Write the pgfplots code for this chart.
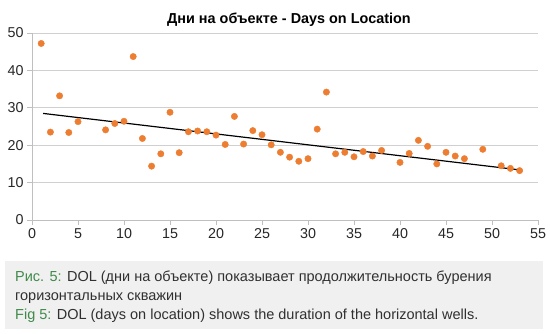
\documentclass[border=0pt]{standalone}
\usepackage{pgfplots}
\pgfplotsset{compat=1.18}
\usepackage{fontspec}
\setmainfont{Liberation Sans}
\definecolor{dorange}{HTML}{ED7D31}
\definecolor{gridgray}{HTML}{D0D0D0}
\definecolor{axgray}{HTML}{BFBFBF}
\definecolor{capgreen}{HTML}{3F8A4A}
\definecolor{capbg}{HTML}{F0F0F0}
\definecolor{captext}{HTML}{303030}
\begin{document}
\begin{tikzpicture}[x=1bp,y=1bp]
\useasboundingbox (0,0) rectangle (550,333);
\fill[capbg] (5,4) rectangle (543,72);
\node[anchor=base west, inner sep=0pt, font=\fontsize{14.5bp}{16bp}\selectfont, text=captext] at (15,52) {\textcolor{capgreen}{Рис. 5:} DOL (дни на объекте) показывает продолжительность бурения};
\node[anchor=base west, inner sep=0pt, font=\fontsize{14.5bp}{16bp}\selectfont, text=captext] at (15,33) {горизонтальных скважин};
\node[anchor=base west, inner sep=0pt, font=\fontsize{14.5bp}{16bp}\selectfont, text=captext] at (15,14) {\textcolor{capgreen}{Fig 5:} DOL (days on location) shows the duration of the horizontal wells.};
\node[anchor=base, inner sep=0pt, font=\fontsize{14.4bp}{16bp}\selectfont\bfseries, text=black] at (289,310) {Дни на объекте - Days on Location};
\begin{axis}[
  at={(32bp,113bp)}, anchor=south west,
  width=506bp, height=187bp, scale only axis,
  xmin=0, xmax=55, ymin=0, ymax=50,
  xtick={0,5,...,55}, ytick={0,10,...,50},
  axis x line*=bottom, axis y line*=left,
  axis line style={axgray, line width=0.8pt, -},
  ymajorgrids, grid style={gridgray, line width=0.8pt},
  tick style={axgray, line width=0.8pt},
  tick align=outside, major tick length=5bp,
  /pgf/number format/assume math mode=true,
  ticklabel style={font=\fontsize{14.3bp}{16bp}\selectfont, text=black!85},
  clip=false,
]
\addplot[only marks, mark=*, mark size=3.2bp, mark options={draw=dorange, fill=dorange}] coordinates {
(1,47.2) (2,23.5) (3,33.2) (4,23.4) (5,26.3) (8,24.1) (9,25.8) (10,26.4) (11,43.7)
(12,21.8) (13,14.4) (14,17.7) (15,28.8) (16,18.0) (17,23.6) (18,23.8) (19,23.6)
(20,22.7) (21,20.2) (22,27.7) (23,20.3) (24,23.9) (25,22.8) (26,20.1) (27,18.1)
(28,16.8) (29,15.7) (30,16.4) (31,24.3) (32,34.2) (33,17.7) (34,18.1) (35,16.9)
(36,18.3) (37,17.1) (38,18.6) (40,15.4) (41,17.8) (42,21.3) (43,19.7) (44,15.0)
(45,18.1) (46,17.1) (47,16.4) (49,18.9) (51,14.5) (52,13.8) (53,13.2)
};
\addplot[black, line width=1.2pt] coordinates {(1.2,28.5) (53,13.4)};
\end{axis}
\end{tikzpicture}
\end{document}
